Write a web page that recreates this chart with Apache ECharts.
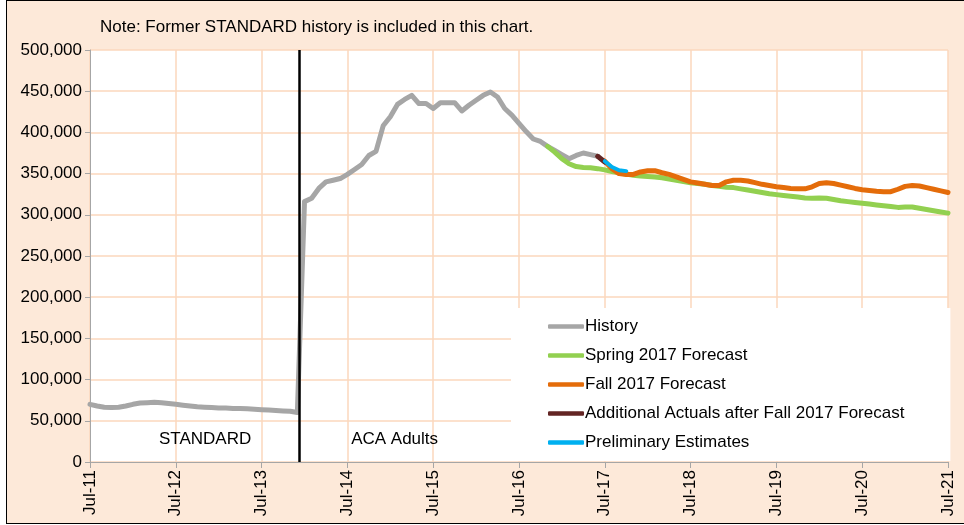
<!DOCTYPE html>
<html>
<head>
<meta charset="utf-8">
<script src="https://cdn.jsdelivr.net/npm/echarts@6/dist/echarts.min.js"></script>
<style>
  html, body { margin: 0; padding: 0; background: #fff; }
  #wrap { position: relative; width: 964px; height: 525px; overflow: hidden; }
  #frame { position: absolute; left: 6px; top: 0; width: 990px; height: 522px; border: 1px solid #000; background: #FDE9D9; }
  #chart { position: absolute; left: 0; top: 0; width: 964px; height: 525px; }
</style>
</head>
<body>
<div id="wrap">
  <div id="frame"></div>
  <div id="chart"></div>
</div>
<script>
// x axis = month index from Jul-11 (0) to Jul-21 (120)
const tickLabels = ['Jul-11', 'Jul-12', 'Jul-13', 'Jul-14', 'Jul-15', 'Jul-16', 'Jul-17', 'Jul-18', 'Jul-19', 'Jul-20', 'Jul-21'];

// History: Jul-11 .. Jun-17
const historyStart = 0;
const historyVals = [
  70000, 68000, 66500, 66000, 66500, 68000, 70000, 71500, 72000, 72500, 72000, 71000,
  70000, 69000, 68000, 67000, 66500, 66000, 65500, 65500, 65000, 65000, 64500, 64000,
  63500, 63000, 62500, 62000, 61500, 60000, 316000, 320000, 332000, 340000, 342000, 344000,
  349000, 355000, 361000, 372000, 377000, 408000, 419000, 434000, 440000, 445000, 435000, 435000,
  429000, 436000, 436000, 436000, 426000, 433000, 439000, 445000, 449000, 443000, 429000, 421000,
  411000, 401000, 392000, 389000, 383000, 378000, 373000, 368000, 372000, 375000, 373000, 371000
];

// Spring 2017 Forecast: Nov-16 .. Jul-21
const springStart = 64;
const springVals = [
  383000, 376000, 368000, 362000, 358500, 357500, 357000, 356000,
  354500, 352500, 351000, 349500, 348000, 347000, 346500, 346000, 345000, 343500, 342000, 340500,
  339000, 338000, 337000, 335500, 334500, 333500, 333000, 331500, 330000, 328500, 327000, 325500,
  324500, 323500, 322500, 321500, 320500, 320000, 320500, 320000, 318500, 317000, 316000, 315000,
  314000, 313000, 312000, 311000, 310000, 309000, 309500, 309500, 308000, 306500, 305000, 303500,
  302000
];

// Fall 2017 Forecast: Jul-17 .. Jul-21
const fallStart = 72;
const fallVals = [
  365000, 356000, 350000, 349000, 349000, 352000, 353500, 353500, 351000, 349000, 346000, 343000,
  340000, 338500, 337000, 335500, 335500, 340000, 342000, 342000, 341000, 339000, 337000, 335500,
  334000, 333000, 332000, 331500, 331500, 334000, 338000, 339000, 338000, 336000, 334000, 332000,
  330500, 329500, 328500, 328000, 328000, 331000, 334500, 335500, 335000, 333000, 331000, 329000,
  327000
];

// Additional Actuals after Fall 2017 Forecast: Jun-17 .. Jul-17
const additionalStart = 71;
const additionalVals = [371000, 364000];

// Preliminary Estimates: Jul-17 .. Oct-17
const prelimStart = 72;
const prelimVals = [365000, 358000, 354000, 353000];

const ruleAt = 29.2;          // STANDARD / ACA Adults split
const noteText = 'Note: Former STANDARD history is included in this chart.';

const toPairs = (start, vals) => vals.map((v, i) => [start + i, v]);
const FONT = 'Liberation Sans, Arial, sans-serif';
const FS = 17;
const gridColor = '#FBD7BC';

const chart = echarts.init(document.getElementById('chart'));

const lineSeries = (name, start, vals, color, width) => ({
  name: name,
  type: 'line',
  data: toPairs(start, vals),
  showSymbol: false,
  symbol: 'none',
  smooth: false,
  lineStyle: { color: color, width: width, cap: 'round', join: 'round' },
  itemStyle: { color: color },
  emphasis: { disabled: true }
});

const history = lineSeries('History', historyStart, historyVals, '#A6A6A6', 5);
history.markLine = {
  silent: true,
  symbol: 'none',
  label: { show: false },
  lineStyle: { color: '#000', width: 2.5, type: 'solid' },
  data: [{ xAxis: ruleAt }]
};
history.markPoint = {
  silent: true,
  symbol: 'circle',
  symbolSize: 0,
  label: { show: true, color: '#000', fontSize: FS, fontFamily: FONT, formatter: p => p.name },
  data: [
    { name: 'STANDARD', coord: [16.1, 28000] },
    { name: 'ACA Adults', coord: [42.6, 28000] }
  ]
};

chart.setOption({
  backgroundColor: 'transparent',
  animation: false,
  textStyle: { fontFamily: FONT },
  title: {
    text: noteText,
    left: 100,
    top: 19,
    padding: 0,
    textStyle: { fontSize: FS, fontWeight: 'normal', color: '#000', fontFamily: FONT }
  },
  grid: {
    left: 90, right: 16, top: 50, bottom: 63,
    show: true, backgroundColor: '#fff', borderWidth: 0
  },
  legend: {
    orient: 'vertical',
    left: 511,
    top: 308,
    padding: [10, 46, 10, 37],
    backgroundColor: '#fff',
    icon: 'roundRect',
    itemWidth: 36,
    itemHeight: 4.5,
    itemGap: 12,
    textStyle: { fontSize: FS, lineHeight: 17, color: '#000', fontFamily: FONT, padding: [0, 0, 0, -4] },
    data: ['History', 'Spring 2017 Forecast', 'Fall 2017 Forecast',
           'Additional Actuals after Fall 2017 Forecast', 'Preliminary Estimates']
  },
  xAxis: {
    type: 'value',
    min: 0, max: 120, interval: 12,
    axisLine: { show: true, lineStyle: { color: '#A6A6A6', width: 1 } },
    axisTick: { show: true, length: 6, lineStyle: { color: '#A6A6A6' } },
    axisLabel: {
      rotate: 90, fontSize: FS, color: '#000', margin: 8, fontFamily: FONT,
      formatter: v => tickLabels[Math.round(v / 12)]
    },
    splitLine: { show: true, lineStyle: { color: gridColor, width: 1.5 } }
  },
  yAxis: {
    type: 'value',
    min: 0, max: 500000, interval: 50000,
    axisLine: { show: true, lineStyle: { color: '#A6A6A6', width: 1 } },
    axisTick: { show: true, length: 5, lineStyle: { color: '#A6A6A6' } },
    axisLabel: { fontSize: FS, color: '#000', margin: 8, fontFamily: FONT,
      formatter: v => v.toLocaleString('en-US') },
    splitLine: { show: true, lineStyle: { color: gridColor, width: 1.5 } }
  },
  series: [
    history,
    lineSeries('Spring 2017 Forecast', springStart, springVals, '#92D050', 5),
    lineSeries('Fall 2017 Forecast', fallStart, fallVals, '#E46C0A', 5),
    lineSeries('Additional Actuals after Fall 2017 Forecast', additionalStart, additionalVals, '#632523', 5),
    lineSeries('Preliminary Estimates', prelimStart, prelimVals, '#00B0F0', 4)
  ]
});
</script>
</body>
</html>
